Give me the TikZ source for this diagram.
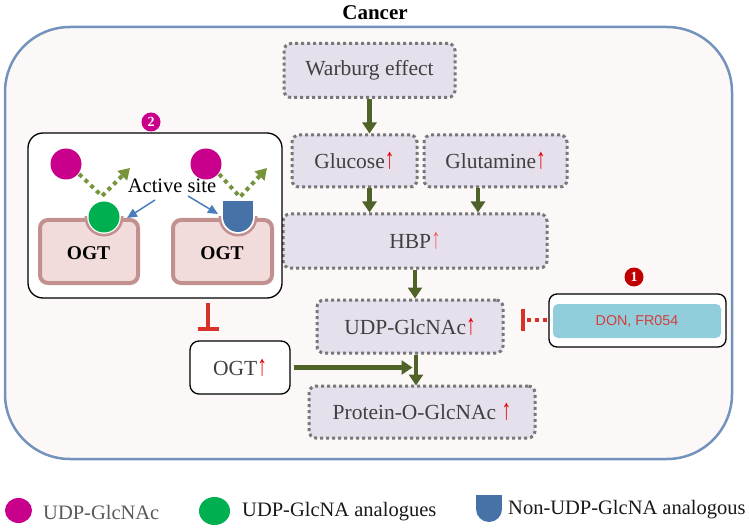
\documentclass[tikz,border=0pt]{standalone}
\usepackage{fontspec}
\setmainfont{Liberation Serif}
\newfontfamily\sansfam{Liberation Sans}
\usetikzlibrary{arrows.meta,shapes.geometric,calc}
\definecolor{bigborder}{RGB}{115,147,189}
\definecolor{bigfill}{RGB}{252,248,248}
\definecolor{boxfill}{RGB}{229,224,236}
\definecolor{dotgray}{RGB}{120,120,120}
\definecolor{oliveg}{RGB}{79,98,40}
\definecolor{lolive}{RGB}{119,147,60}
\definecolor{ogtfill}{RGB}{242,220,219}
\definecolor{ogtb}{RGB}{194,144,142}
\definecolor{mag}{RGB}{200,0,140}
\definecolor{ballgreen}{RGB}{0,176,80}
\definecolor{shieldblue}{RGB}{70,114,168}
\definecolor{actblue}{RGB}{74,126,187}
\definecolor{inhred}{RGB}{217,48,42}
\definecolor{donfill}{RGB}{146,205,220}
\definecolor{dontext}{RGB}{208,64,60}
\definecolor{badgered}{RGB}{192,0,0}
\definecolor{txtgray}{RGB}{64,64,64}
\definecolor{upred}{RGB}{230,0,0}
\definecolor{leggray}{RGB}{89,89,89}
\newcommand\redup{\textcolor{upred}{\scalebox{0.9}[1.35]{↑}}}
\newcommand\pinkup{\textcolor{upred!60}{\scalebox{0.9}[1.35]{↑}}}
\begin{document}
\begin{tikzpicture}[x=1pt,y=-1pt,
  pbox/.style={draw=dotgray, line width=3pt, dash pattern=on 3pt off 3pt, fill=boxfill,
    rounded corners=7pt, inner sep=0pt, font=\fontsize{21.5}{24}\selectfont, text=txtgray},
  garrow/.style={draw=oliveg, line width=4.5pt, -{Triangle[width=14pt,length=11pt]}},
  dotarrow/.style={draw=lolive, line width=4pt, dash pattern=on 4pt off 4pt, -{Triangle[width=13pt,length=11pt]}},
  blarrow/.style={draw=actblue, line width=1.5pt, -{Triangle[width=9pt,length=10pt]}},
  ogtbox/.style={draw=ogtb, fill=ogtfill, line width=4pt, rounded corners=8pt, inner sep=0pt,
    minimum height=63pt, font=\bfseries\fontsize{19.5}{22}\selectfont},
  badge/.style={circle, inner sep=0pt, minimum size=19pt, text=white, font=\bfseries\fontsize{14}{14}\selectfont},
  legtext/.style={anchor=base west, inner sep=0pt, font=\fontsize{20.5}{23}\selectfont},
  inh/.style={draw=inhred, line width=4pt}
]
\useasboundingbox (0,0) rectangle (749,529);
% title and main frame
\node[font=\bfseries\fontsize{21}{24}\selectfont] (title) at (375,13) {Cancer};
\node[draw=bigborder, fill=bigfill, line width=2.5pt, rounded corners=65pt,
  minimum width=727pt, minimum height=432pt, inner sep=0pt] (frame) at (368.5,243) {};

% pathway boxes
\node[pbox, minimum width=171pt, minimum height=54pt] (warburg) at (369.5,70.5) {Warburg effect};
\node[pbox, minimum width=125pt, minimum height=52pt] (glucose) at (354.5,161) {Glucose\redup};
\node[pbox, minimum width=143pt, minimum height=52pt] (glutamine) at (495.5,161) {Glutamine\redup};
\node[pbox, minimum width=264pt, minimum height=54pt] (hbp) at (415,241) {HBP\pinkup};
\node[pbox, minimum width=186pt, minimum height=53pt] (udp) at (410,326.5) {UDP-GlcNAc\redup};
\node[pbox, minimum width=226pt, minimum height=52pt] (protein) at (422,412) {Protein-O-GlcNAc \redup};
\node[draw=black, line width=1.3pt, fill=white, rounded corners=9pt, minimum width=100pt,
  minimum height=53pt, inner sep=0pt, font=\fontsize{21.5}{24}\selectfont, text=txtgray]
  (ogtup) at (240,367.5) {OGT\redup};

% pathway arrows
\draw[garrow] (warburg.south) -- (warburg.south |- glucose.north);
\coordinate (gl1) at (glucose.south -| warburg.south);
\draw[garrow] (gl1) -- (gl1 |- hbp.north);
\coordinate (gt1) at ([xshift=-17.5pt]glutamine.south);
\draw[garrow] (gt1) -- (gt1 |- hbp.north);
\draw[garrow] (hbp.south) -- (hbp.south |- udp.north);
\coordinate (up1) at ([xshift=6pt]udp.south);
\draw[garrow] (up1) -- ([yshift=-1pt]up1 |- protein.north);
\coordinate (hend) at ([xshift=-3.5pt]up1 |- ogtup.east);
\draw[garrow] ([xshift=3pt]ogtup.east) -- (hend);

% inhibitor box 1
\node[draw=black, line width=1.3pt, fill=white, rounded corners=8pt, minimum width=177pt,
  minimum height=53pt, inner sep=0pt] (box1) at (637.5,320.5) {};
\node[fill=donfill, rounded corners=5pt, minimum width=168pt, minimum height=34pt, inner sep=0pt,
  text=dontext, font=\sansfam\fontsize{14.3}{16}\selectfont] (don) at (637,321) {DON, FR054};
\node[badge, fill=badgered] (b1) at (634,277) {1};
\coordinate (bar1) at (523,320);
\draw[inh, dash pattern=on 4pt off 4pt] ([xshift=-1pt]box1.west |- bar1) -- (bar1);
\draw[inh] (523,309) -- (523,331);

% box 2
\node[draw=black, line width=1.3pt, fill=white, rounded corners=15pt, minimum width=254pt,
  minimum height=165pt, inner sep=0pt] (box2) at (155,215.5) {};
\node[badge, fill=mag] (b2) at (151,122) {2};
\node[ogtbox, minimum width=98pt] (ogtl) at (89,251.5) {};
\node[ogtbox, minimum width=99pt] (ogtr) at (222.5,251.5) {};
\node[font=\bfseries\fontsize{19.5}{22}\selectfont] (ogtlt) at (88.5,253) {OGT};
\node[font=\bfseries\fontsize{19.5}{22}\selectfont] (ogtrt) at (222,253) {OGT};
\coordinate (lball) at (104,217);
\coordinate (rshield) at (238,217);
% notches
\begin{scope}
  \clip (70,217) rectangle (270,245);
  \fill[ogtb] (lball) circle[radius=19.5];
  \fill[ogtb] (rshield) circle[radius=19.5];
\end{scope}
\begin{scope}
  \clip (70,212) rectangle (270,245);
  \fill[white] (lball) circle[radius=16.8];
  \fill[white] (rshield) circle[radius=16.8];
\end{scope}
\fill[ballgreen] (lball) circle[radius=15.5];
\fill[shieldblue] (223,201) rectangle (253,217);
\fill[shieldblue] (rshield) circle[radius=15];
% magenta balls and dotted arrows
\node[circle, fill=mag, minimum size=31pt, inner sep=0pt] (lmag) at (66,164) {};
\node[circle, fill=mag, minimum size=31pt, inner sep=0pt] (rmag) at (206,164) {};
\coordinate (lv) at (102,196);
\coordinate (ltip) at (130,168);
\coordinate (rv) at (240,197);
\coordinate (rtip) at (267,168);
\draw[dotarrow] ([shift={(2pt,1pt)}]lmag.south east) -- (lv) -- (ltip);
\draw[dotarrow] ([shift={(2pt,1pt)}]rmag.south east) -- (rv) -- (rtip);
% active site
\node[font=\fontsize{20.5}{23}\selectfont, inner sep=1pt] (active) at (172,186) {Active site};
\coordinate (a1) at (155,200);
\coordinate (a1e) at (127,218);
\coordinate (a2) at (188,196);
\coordinate (a2e) at (218,214);
\draw[blarrow] (a1) -- (a1e);
\draw[blarrow] (a2) -- (a2e);
% inhibitor box2 -> OGT
\coordinate (i2) at (208,303);
\coordinate (i2e) at (208,329);
\draw[inh] (i2) -- (i2e);
\draw[inh] ([xshift=-10.5pt]i2e) -- ([xshift=10.5pt]i2e);

% legend
\node[ellipse, fill=mag, minimum width=27pt, minimum height=25pt, inner sep=0pt] (lg1) at (18.5,510.5) {};
\node[legtext, text=leggray] (lt1) at (43,519) {UDP-GlcNAc};
\node[ellipse, fill=ballgreen, minimum width=31pt, minimum height=28pt, inner sep=0pt] (lg2) at (214.5,511) {};
\node[legtext, text=black!90] (lt2) at (242,516) {UDP-GlcNA analogues};
\fill[shieldblue] (476,495) rectangle (502,509);
\fill[shieldblue] (489,509) circle[radius=13];
\node[legtext, text=black!90] (lt3) at (508,514) {Non-UDP-GlcNA analogous};
\end{tikzpicture}
\end{document}
